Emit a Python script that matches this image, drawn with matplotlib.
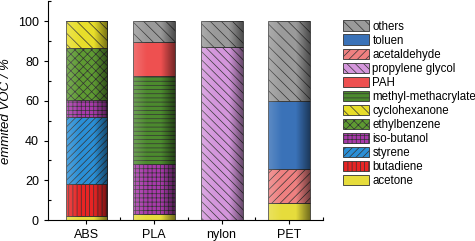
import numpy as np
import matplotlib
matplotlib.use('Agg')
import matplotlib.pyplot as plt
from matplotlib.patches import Patch
from matplotlib.colors import LinearSegmentedColormap

# data (percent of emitted VOC)
materials = ['ABS', 'PLA', 'nylon', 'PET']
compounds = ['acetone', 'butadiene', 'styrene', 'iso-butanol', 'ethylbenzene',
             'cyclohexanone', 'methyl-methacrylate', 'PAH', 'propylene glycol',
             'acetaldehyde', 'toluen', 'others']
acetone = [2.0, 3.0, 0, 8.8]
butadiene = [16.0, 0, 0, 0]
styrene = [33.6, 0, 0, 0]
iso_butanol = [9.0, 25.4, 0, 0]
ethylbenzene = [26.0, 0, 0, 0]
cyclohexanone = [13.4, 0, 0, 0]
methyl_methacrylate = [0, 43.9, 0, 0]
pah = [0, 17.2, 0, 0]
propylene_glycol = [0, 0, 87.0, 0]
acetaldehyde = [0, 0, 0, 16.8]
toluen = [0, 0, 0, 34.4]
others = [0, 10.5, 13.0, 40.0]

values = [acetone, butadiene, styrene, iso_butanol, ethylbenzene, cyclohexanone,
          methyl_methacrylate, pah, propylene_glycol, acetaldehyde, toluen, others]

colors = ['#e6dc3c', '#e82424', '#2a8fd6', '#a83aaa', '#5e9a32', '#e8de2a',
          '#4c8a2e', '#ee5050', '#d496dc', '#ee8080', '#3a72b8', '#9a9a9a']
hatches = ['', '||||', '/////', '++++', 'xxxx', '\\\\\\', '----', '',
           '\\\\\\\\', '////', '', '\\\\\\']

plt.rcParams['hatch.linewidth'] = 0.5
plt.rcParams['hatch.color'] = '#333333'
plt.rcParams['font.family'] = 'Liberation Sans'

fig = plt.figure(figsize=(4.75, 2.41), dpi=100)
ax = fig.add_axes([0.101, 0.087, 0.579, 0.907])

w = 0.62
x = np.arange(len(materials))
bottom = np.zeros(len(materials))
for vals, c, h in zip(values, colors, hatches):
    vals = np.array(vals)
    ax.bar(x, vals, w, bottom=bottom, color=c, hatch=h,
           edgecolor='#333333', linewidth=0.6)
    bottom += vals

# shading across each bar: lighter left, darker right
shade = LinearSegmentedColormap.from_list(
    'shade', [(1, 1, 1, 0.18), (1, 1, 1, 0.0), (0, 0, 0, 0.0), (0, 0, 0, 0.5)])
grad = np.linspace(0, 1, 64).reshape(1, -1)
for xi, top in zip(x, bottom):
    ax.imshow(grad, cmap=shade, extent=[xi - w / 2, xi + w / 2, 0, top],
              aspect='auto', zorder=3, interpolation='bilinear')

ax.set_xlim(-0.57, 3.5)
ax.set_ylim(0, 110)
ax.set_xticks(x)
ax.set_xticklabels(materials, fontsize=9)
ax.set_xticks([0.5, 1.5, 2.5, 3.5], minor=True)
ax.set_yticks([0, 20, 40, 60, 80, 100])
ax.set_yticks([10, 30, 50, 70, 90, 110], minor=True)
ax.tick_params(axis='both', labelsize=9, length=3, width=0.8, direction='out')
ax.tick_params(which='minor', length=2.5, width=0.8, direction='in')
ax.spines['top'].set_visible(False)
ax.spines['right'].set_visible(False)
ax.set_ylabel('emmited VOC / %', fontsize=9.5, style='italic')

handles = [Patch(facecolor=c, hatch=h, edgecolor='#333333', linewidth=0.6, label=n)
           for n, c, h in zip(compounds, colors, hatches)]
fig.legend(handles=handles[::-1], loc='upper left', bbox_to_anchor=(0.722, 0.915),
           frameon=False, fontsize=8.3, handlelength=2.25, handleheight=1.05,
           labelspacing=0.15, handletextpad=0.3, borderpad=0, borderaxespad=0)

fig.savefig('out.png', dpi=100)
